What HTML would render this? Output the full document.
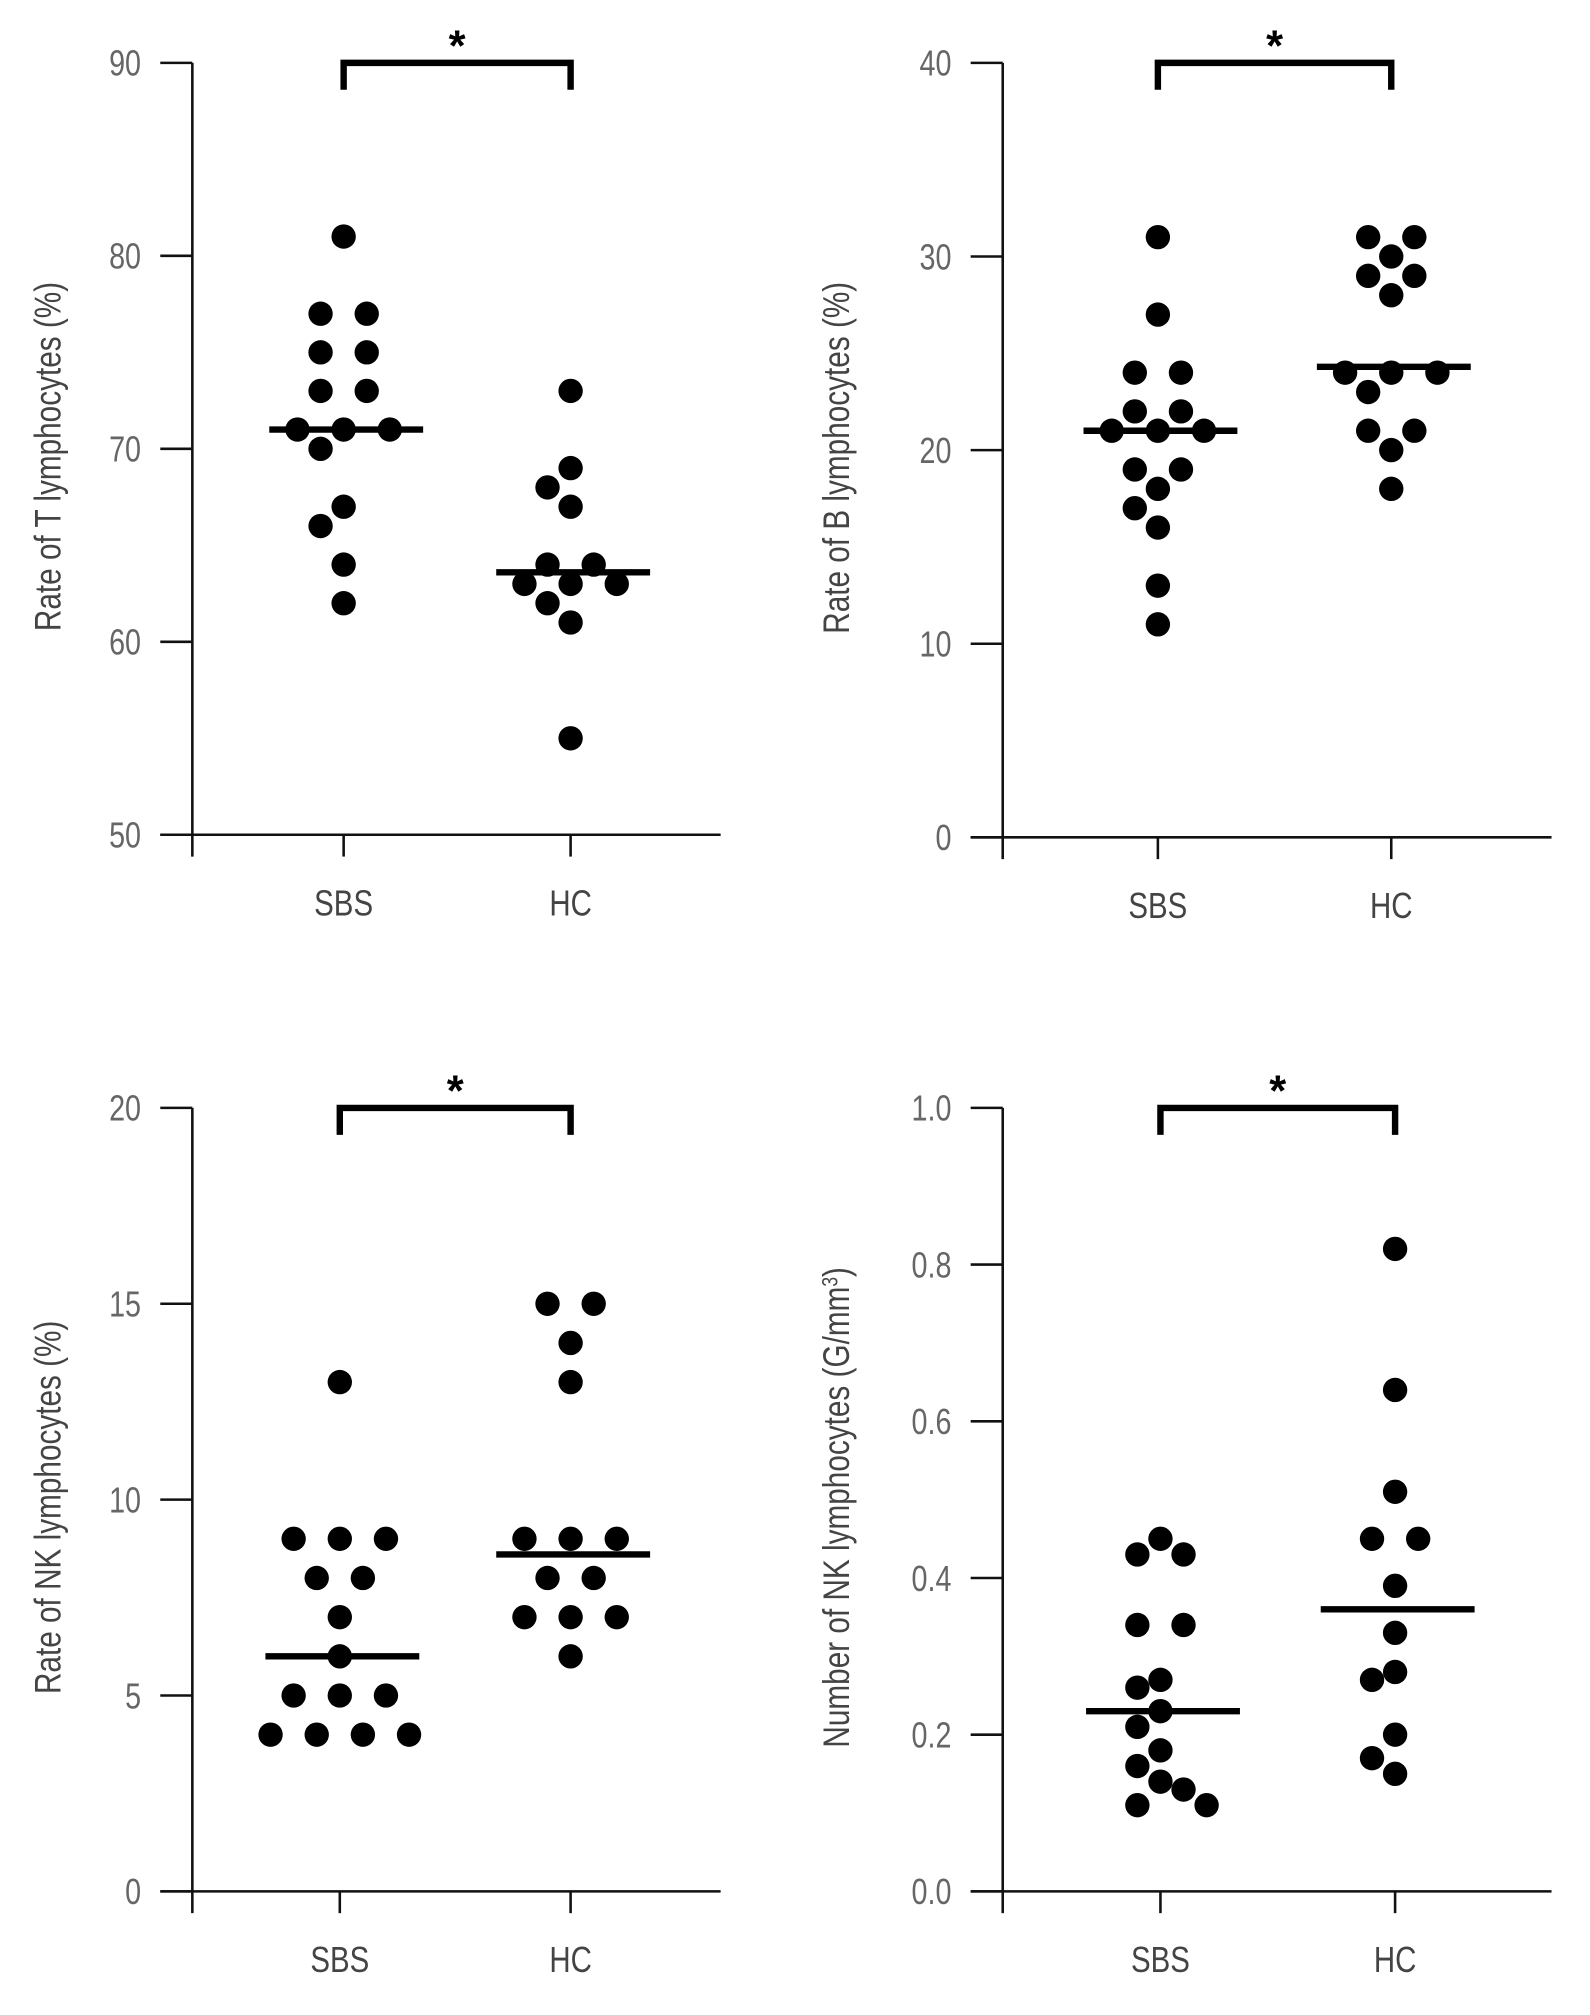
<!DOCTYPE html>
<html><head><meta charset="utf-8"><style>
html,body{margin:0;padding:0;background:#fff}
svg{display:block}
text{font-family:"Liberation Sans",sans-serif}
</style></head><body>
<svg id="fig" width="1590" height="2015" viewBox="0 0 1240 1571.4" xmlns="http://www.w3.org/2000/svg"></svg>
<script>
const categories = ["SBS", "HC"];
const tSbs = [81,77,77,75,75,73,73,71,71,71,70,67,66,64,62];
const tHc = [73,69,68,67,64,64,63,63,63,62,61,55];
const tMedians = [71, 63.6];
const tTicks = ["50","60","70","80","90"];
const bSbs = [31,27,24,24,22,22,21,21,21,19,19,18,17,16,13,11];
const bHc = [31,31,30,29,29,28,24,24,24,23,21,21,20,18];
const bMedians = [21, 24.3];
const bTicks = ["0","10","20","30","40"];
const nkSbs = [13,9,9,9,8,8,7,6,5,5,5,4,4,4,4];
const nkHc = [15,15,14,13,9,9,9,8,8,7,7,7,6];
const nkMedians = [6, 8.6];
const nkTicks = ["0","5","10","15","20"];
const ncSbs = [0.45,0.43,0.43,0.34,0.34,0.27,0.26,0.23,0.21,0.18,0.16,0.14,0.13,0.11,0.11];
const ncHc = [0.82,0.64,0.51,0.45,0.45,0.39,0.33,0.28,0.27,0.20,0.17,0.15];
const ncMedians = [0.23, 0.36];
const ncTicks = ["0.0","0.2","0.4","0.6","0.8","1.0"];

const NS = "http://www.w3.org/2000/svg";
const svg = document.getElementById("fig");
function mk(tag, attrs, parent){
  const e = document.createElementNS(NS, tag);
  for (const k in attrs) e.setAttribute(k, attrs[k]);
  (parent||svg).appendChild(e);
  return e;
}
function panel(cfg){
  const g = mk("g", {});
  
  
  const ymin = parseFloat(cfg.ticks[0]), ymax = parseFloat(cfg.ticks[cfg.ticks.length-1]);
  const y = v => cfg.y0 + (v - ymin) / (ymax - ymin) * (cfg.y1 - cfg.y0);
  const xs = [cfg.xSbs, cfg.xHc];
  const ya = mk("line", {x1:cfg.ax, x2:cfg.ax, y1:cfg.y1, y2:cfg.y0+17, stroke:"#111","stroke-width":2}, g);
  
  
  const xa = mk("line", {x1:cfg.ax-25, x2:cfg.xEnd, y1:cfg.y0, y2:cfg.y0, stroke:"#111","stroke-width":2}, g);
  
  
  cfg.ticks.forEach(t => {
    const yy = y(parseFloat(t));
    const tl = mk("line", {x1:cfg.ax-25, x2:cfg.ax, y1:yy, y2:yy, stroke:"#111","stroke-width":2}, g);
    
    
    const tx = mk("text", {x:(cfg.ax-40)/0.8, y:yy+10, "text-anchor":"end", "font-size":28, fill:"#666", transform:"scale(0.8,1)"}, g);
    tx.textContent = t;
    
    
  });
  categories.forEach((c, i) => {
    const tk = mk("line", {x1:xs[i], x2:xs[i], y1:cfg.y0, y2:cfg.y0+17, stroke:"#111","stroke-width":2}, g);
    
    
    const lb = mk("text", {x:xs[i]/0.82, y:cfg.y0+63, "text-anchor":"middle", "font-size":28, fill:"#444", transform:"scale(0.82,1)"}, g);
    lb.textContent = c;
    
    
  });
  const ti = mk("text", {x:0, y:0, "text-anchor":"middle", "font-size":29, fill:"#444",
    transform:`translate(${cfg.titleX},${(cfg.y0+cfg.y1)/2+6}) rotate(-90) scale(0.8,1)`}, g);
  ti.innerHTML = cfg.title;
  
  
  const bk = mk("path", {d:`M${xs[0]},${cfg.y1+21} V${cfg.y1} H${xs[1]} V${cfg.y1+21}`, fill:"none", stroke:"#000","stroke-width":5}, g);
  
  
  const st = mk("text", {x:(xs[0]+xs[1])/2, y:cfg.y1-2, "text-anchor":"middle", "font-size":34, "font-weight":"bold", fill:"#000"}, g);
  st.textContent = "*";
  
  
  [cfg.sbs, cfg.hc].forEach((vals, i) => {
    const counts = {};
    vals.forEach(v => counts[v] = (counts[v]||0) + 1);
    const seen = {};
    const placed = [];
    vals.forEach(v => {
      const n = counts[v], k = (seen[v] = (seen[v]||0) + 1) - 1;
      let off = (k - (n-1)/2) * 36;
      const cy = y(v);
      const hit = o => placed.some(p => Math.hypot(p[0]-o, p[1]-cy) < 19);
      if (hit(off)) {
        for (let s = 1; s < 12; s++) {
          if (!hit(off - 18*s)) { off -= 18*s; break; }
          if (!hit(off + 18*s)) { off += 18*s; break; }
        }
      }
      placed.push([off, cy]);
      const d = mk("circle", {cx:xs[i] + off, cy:cy, r:9.5, fill:"#000"}, g);
      
      
    });
    const m = mk("line", {x1:xs[i]-58, x2:xs[i]+62, y1:y(cfg.med[i]), y2:y(cfg.med[i]), stroke:"#000","stroke-width":5}, g);
    
    
  });
}
panel({name:"t-lymphocytes-panel", ax:150, y0:651, y1:49, xEnd:562, xSbs:268, xHc:445, titleX:47,
  ticks:tTicks, sbs:tSbs, hc:tHc, med:tMedians, title:"Rate of T lymphocytes (%)"});
panel({name:"b-lymphocytes-panel", ax:782, y0:653, y1:49, xEnd:1210, xSbs:903, xHc:1085, titleX:662,
  ticks:bTicks, sbs:bSbs, hc:bHc, med:bMedians, title:"Rate of B lymphocytes (%)"});
panel({name:"nk-rate-panel", ax:150, y0:1475, y1:864, xEnd:562, xSbs:265, xHc:445, titleX:47,
  ticks:nkTicks, sbs:nkSbs, hc:nkHc, med:nkMedians, title:"Rate of NK lymphocytes (%)"});
panel({name:"nk-count-panel", ax:782, y0:1475, y1:864, xEnd:1210, xSbs:905, xHc:1088, titleX:662,
  ticks:ncTicks, sbs:ncSbs, hc:ncHc, med:ncMedians, title:"Number of NK lymphocytes (G/mm<tspan dy='-9' font-size='17'>3</tspan><tspan dy='9'>)</tspan>"});
</script>
</body></html>
